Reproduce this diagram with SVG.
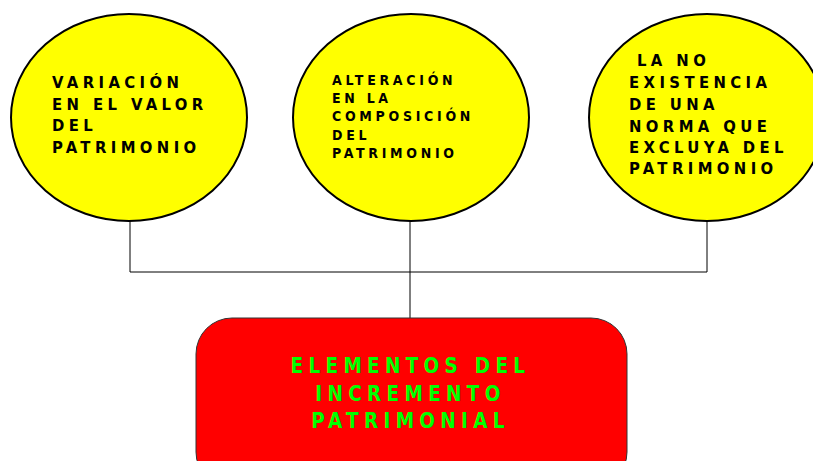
<svg xmlns="http://www.w3.org/2000/svg" width="813" height="461" viewBox="0 0 813 461">
<style>
.ell{fill:#FFFF00;stroke:#000;stroke-width:2}
.t{font-family:"DejaVu Sans",sans-serif;font-stretch:condensed;font-weight:bold;fill:#000}
.conn{stroke:#000;stroke-width:1;fill:none}
.box{fill:#FF0000;stroke:#333;stroke-width:1}
.bt{font-family:"DejaVu Sans",sans-serif;font-stretch:condensed;font-weight:bold;fill:#00FF00;font-size:20.5px;letter-spacing:5.3px;text-anchor:middle}
</style>
<rect width="813" height="461" fill="#fff"/>
<g id="connectors">
<path class="conn" d="M130 221V272H707V221M410 221V318"/>
</g>
<g id="n1">
<ellipse class="ell" cx="129" cy="117.5" rx="118" ry="103.5"/>
<text class="t" font-size="16.5" letter-spacing="4.4"><tspan x="52" y="88">VARIACIÓN</tspan><tspan x="52" y="110">EN EL VALOR</tspan><tspan x="52" y="131">DEL</tspan><tspan x="52" y="153">PATRIMONIO</tspan></text>
</g>
<g id="n2">
<ellipse class="ell" cx="411" cy="117.5" rx="118" ry="103.5"/>
<text class="t" font-size="14" letter-spacing="3.7"><tspan x="332" y="85">ALTERACIÓN</tspan><tspan x="332" y="103">EN LA</tspan><tspan x="332" y="121">COMPOSICIÓN</tspan><tspan x="332" y="140">DEL</tspan><tspan x="332" y="158">PATRIMONIO</tspan></text>
</g>
<g id="n3">
<ellipse class="ell" cx="707" cy="117.5" rx="118" ry="103.5"/>
<text class="t" font-size="16.5" letter-spacing="4.4"><tspan x="637" y="66">LA NO</tspan><tspan x="629" y="88">EXISTENCIA</tspan><tspan x="629" y="110">DE UNA</tspan><tspan x="629" y="132">NORMA QUE</tspan><tspan x="629" y="153">EXCLUYA DEL</tspan><tspan x="629" y="174">PATRIMONIO</tspan></text>
</g>
<g id="n4">
<rect class="box" x="196" y="318" width="431" height="170" rx="36" ry="36"/>
<text class="bt"><tspan x="410.5" y="373">ELEMENTOS DEL</tspan><tspan x="410.5" y="401">INCREMENTO</tspan><tspan x="410.5" y="428">PATRIMONIAL</tspan></text>
</g>
</svg>
